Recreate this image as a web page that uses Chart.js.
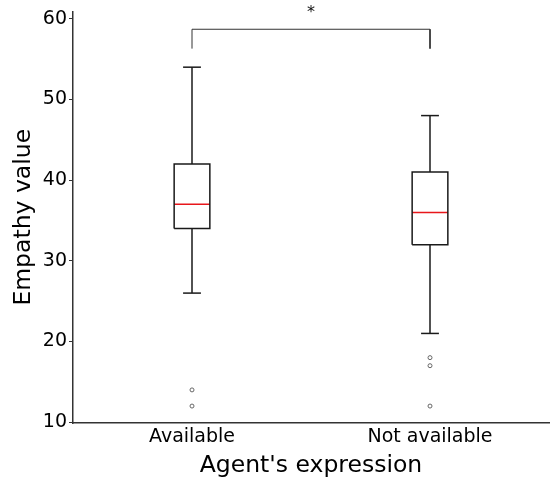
<!DOCTYPE html>
<html>
<head>
<meta charset="utf-8">
<script src="https://cdn.jsdelivr.net/npm/chart.js@4.4.1/dist/chart.umd.min.js"></script>
<style>
  html, body { margin: 0; padding: 0; background: #fff; }
  #wrap { width: 550px; height: 480px; }
</style>
</head>
<body>
<div id="wrap"><canvas id="c" width="550" height="480"></canvas></div>
<script>
// box plot: empathy value by agent's expression
const categories = ['Available', 'Not available'];
const positions = [1, 2];
const whiskerLow = [26, 21];
const q1 = [34, 32];
const median = [37, 36];
const q3 = [42, 41];
const whiskerHigh = [54, 48];
const outliers = [[14, 12], [18, 17, 12]];
const yTicks = [10, 20, 30, 40, 50, 60];
const bracketY = 58.7, bracketLegY = 56.3, starY = 60.7;

const BOX_HALF = 0.075, CAP_HALF = 0.0375;
const EDGE = '#1a1a1a';

const datasets = [];
const seg = (pts, color, width) => datasets.push({
  type: 'scatter', data: pts, showLine: true, borderColor: color,
  borderWidth: width, pointRadius: 0, fill: false, tension: 0, clip: false
});

positions.forEach((x, i) => {
  seg([{x: x - BOX_HALF, y: q1[i]}, {x: x + BOX_HALF, y: q1[i]}, {x: x + BOX_HALF, y: q3[i]},
       {x: x - BOX_HALF, y: q3[i]}, {x: x - BOX_HALF, y: q1[i]}], EDGE, 1.5);
  seg([{x: x, y: q3[i]}, {x: x, y: whiskerHigh[i]}], EDGE, 1.5);
  seg([{x: x - CAP_HALF, y: whiskerHigh[i]}, {x: x + CAP_HALF, y: whiskerHigh[i]}], EDGE, 1.5);
  seg([{x: x, y: q1[i]}, {x: x, y: whiskerLow[i]}], EDGE, 1.5);
  seg([{x: x - CAP_HALF, y: whiskerLow[i]}, {x: x + CAP_HALF, y: whiskerLow[i]}], EDGE, 1.5);
  seg([{x: x - BOX_HALF, y: median[i]}, {x: x + BOX_HALF, y: median[i]}], '#e8161b', 1.5);
  datasets.push({
    type: 'scatter', data: outliers[i].map(v => ({x: x, y: v})),
    pointRadius: 2, pointBorderWidth: 1, pointBorderColor: '#666',
    pointBackgroundColor: 'rgba(0,0,0,0)', showLine: false
  });
});

seg([{x: positions[0], y: bracketLegY}, {x: positions[0], y: bracketY},
     {x: positions[1], y: bracketY}, {x: positions[1], y: bracketLegY}], '#333', 1);

const starPlugin = {
  id: 'star',
  afterDatasetsDraw(chart) {
    const {ctx, scales} = chart;
    ctx.save();
    ctx.fillStyle = '#111';
    ctx.font = '16px "DejaVu Sans"';
    ctx.textAlign = 'center';
    ctx.textBaseline = 'middle';
    ctx.fillText('*', scales.x.getPixelForValue((positions[0] + positions[1]) / 2), scales.y.getPixelForValue(starY));
    ctx.restore();
  }
};

new Chart(document.getElementById('c').getContext('2d'), {
  type: 'scatter',
  data: { datasets },
  plugins: [starPlugin],
  options: {
    responsive: false,
    animation: false,
    layout: { autoPadding: false, padding: { top: 9, right: 1, left: 0, bottom: 0 } },
    plugins: { legend: { display: false }, tooltip: { enabled: false } },
    scales: {
      x: {
        type: 'linear', min: 0.5, max: 2.5,
        afterBuildTicks: s => { s.ticks = positions.map(v => ({value: v})); },
        afterFit: s => { s.height = 57; },
        ticks: {
          color: '#000', padding: 3, maxRotation: 0,
          font: { family: 'DejaVu Sans', size: 19 },
          callback: v => categories[positions.indexOf(v)]
        },
        grid: { drawOnChartArea: false, drawTicks: false, color: '#333' },
        border: { display: true, color: '#333', width: 1.5 },
        title: { display: true, text: "Agent's expression", color: '#000',
                 font: { family: 'DejaVu Sans', size: 23.5 }, padding: { top: 2, bottom: 0 } }
      },
      y: {
        type: 'linear', min: 9.9, max: 60.9,
        afterBuildTicks: s => { s.ticks = yTicks.map(v => ({value: v})); },
        afterFit: s => { s.width = 73; },
        ticks: { color: '#000', padding: 2, font: { family: 'DejaVu Sans', size: 19, lineHeight: 1 } },
        grid: { drawOnChartArea: false, drawTicks: true, tickLength: 4, color: '#333' },
        border: { display: true, color: '#333', width: 1.5 },
        title: { display: true, text: 'Empathy value', color: '#000',
                 font: { family: 'DejaVu Sans', size: 23.5 }, padding: { top: 10, bottom: 0 } }
      }
    }
  }
});
</script>
</body>
</html>
